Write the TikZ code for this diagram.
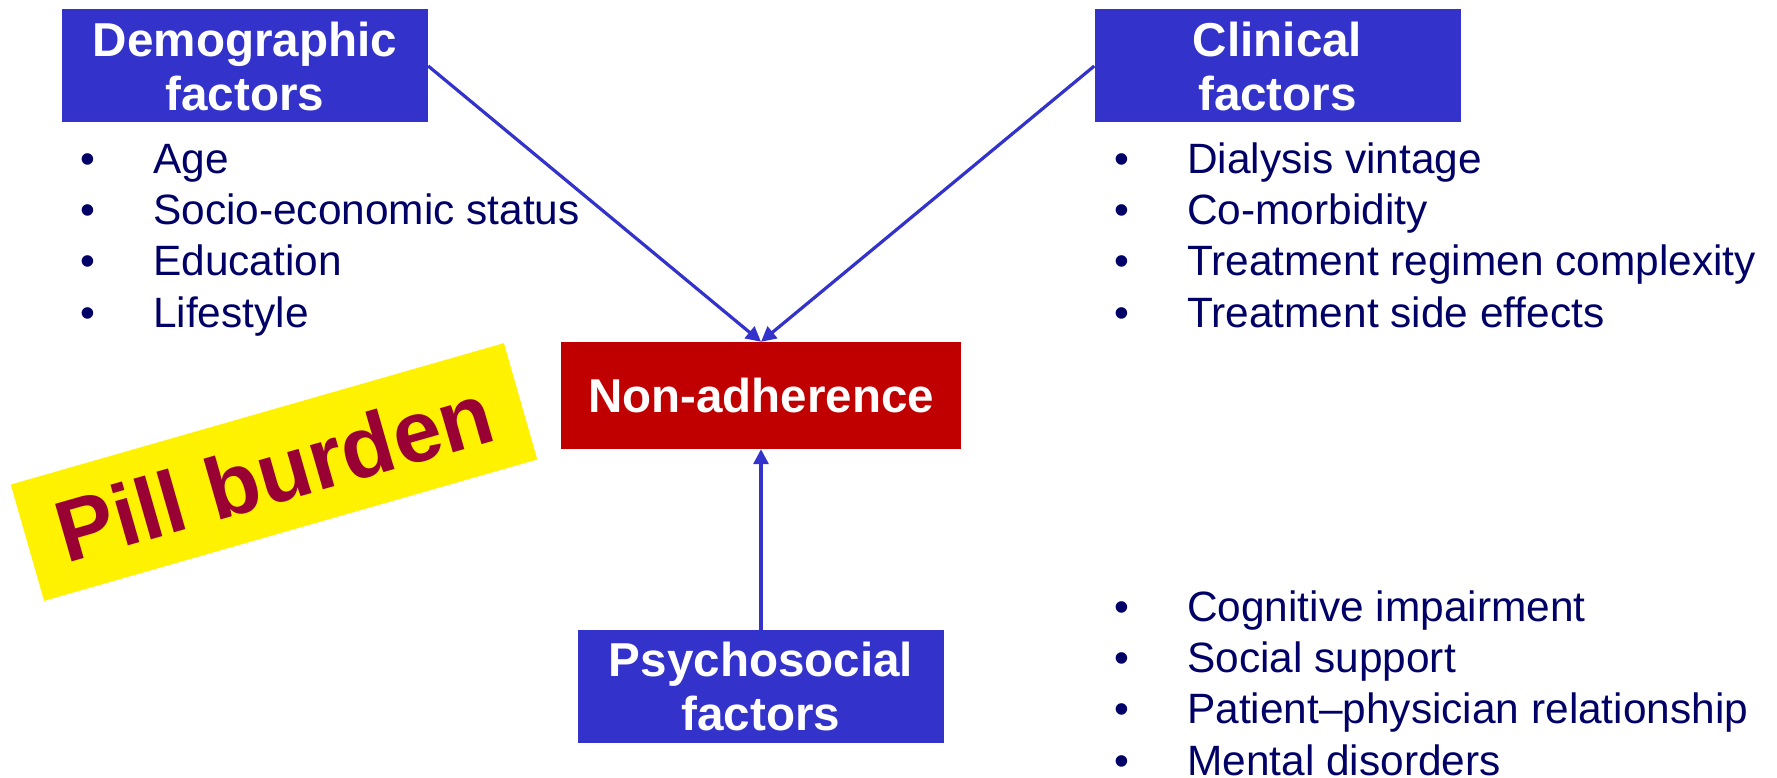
\documentclass[tikz,border=0pt]{standalone}
\usepackage{fontspec}
\setmainfont{Liberation Sans}
\usetikzlibrary{arrows.meta}

\definecolor{boxblue}{RGB}{51,51,204}
\definecolor{adhred}{RGB}{192,0,0}
\definecolor{listnavy}{RGB}{0,0,102}
\definecolor{pillred}{RGB}{153,0,51}

\tikzset{
    factorbox/.style={fill=boxblue, text=white, align=center, inner sep=0pt,
        minimum width=366pt, minimum height=113pt,
        font=\fontsize{47.6}{54}\selectfont\bfseries},
    factorlist/.style={anchor=north west, inner sep=0pt, text=listnavy,
        font=\fontsize{42.4}{51.3}\selectfont},
    factorarrow/.style={draw=boxblue, line width=3.2pt, -{Triangle[length=15pt, width=15pt]}}
}

\begin{document}
\begin{tikzpicture}[x=1pt, y=-1pt]
        \useasboundingbox (0, 0) rectangle (1777, 778);
        \node[factorbox] (demo) at (245, 66) {Demographic\\factors};
        \node[factorbox] (clin) at (1277.5, 66) {Clinical\\factors};
        \node[factorbox] (psych) at (761, 686.5) {Psychosocial\\factors};
        \node[fill=adhred, text=white, inner sep=0pt, minimum width=400pt, minimum height=107pt,
            font=\fontsize{47.5}{54}\selectfont\bfseries] (nonadh) at (761, 395.5) {Non-adherence};
        \node[fill=yellow, rotate=16, inner sep=0pt, minimum width=513pt, minimum height=121pt,
            text=pillred, font=\fontsize{87}{100}\selectfont\bfseries] (pill) at (274, 472) {Pill burden};
        \node[factorlist] (demolist) at (80.6, 137) {\begin{tabular}{@{}l@{\hspace{57.6pt}}l@{}}
            \textbullet & Age\\
            \textbullet & Socio-economic status\\
            \textbullet & Education\\
            \textbullet & Lifestyle
        \end{tabular}};
        \node[factorlist] (clinlist) at (1114.6, 137) {\begin{tabular}{@{}l@{\hspace{57.6pt}}l@{}}
            \textbullet & Dialysis vintage\\
            \textbullet & Co-morbidity\\
            \textbullet & Treatment regimen complexity\\
            \textbullet & Treatment side effects
        \end{tabular}};
        \node[factorlist] (psychlist) at (1114.6, 585) {\begin{tabular}{@{}l@{\hspace{57.6pt}}l@{}}
            \textbullet & Cognitive impairment\\
            \textbullet & Social support\\
            \textbullet & Patient--physician relationship\\
            \textbullet & Mental disorders
        \end{tabular}};
        \draw[factorarrow] (demo.east) -- (nonadh.north);
        \draw[factorarrow] (clin.west) -- (nonadh.north);
        \draw[factorarrow] (psych.north) -- (nonadh.south);
    \end{tikzpicture}
\end{document}
